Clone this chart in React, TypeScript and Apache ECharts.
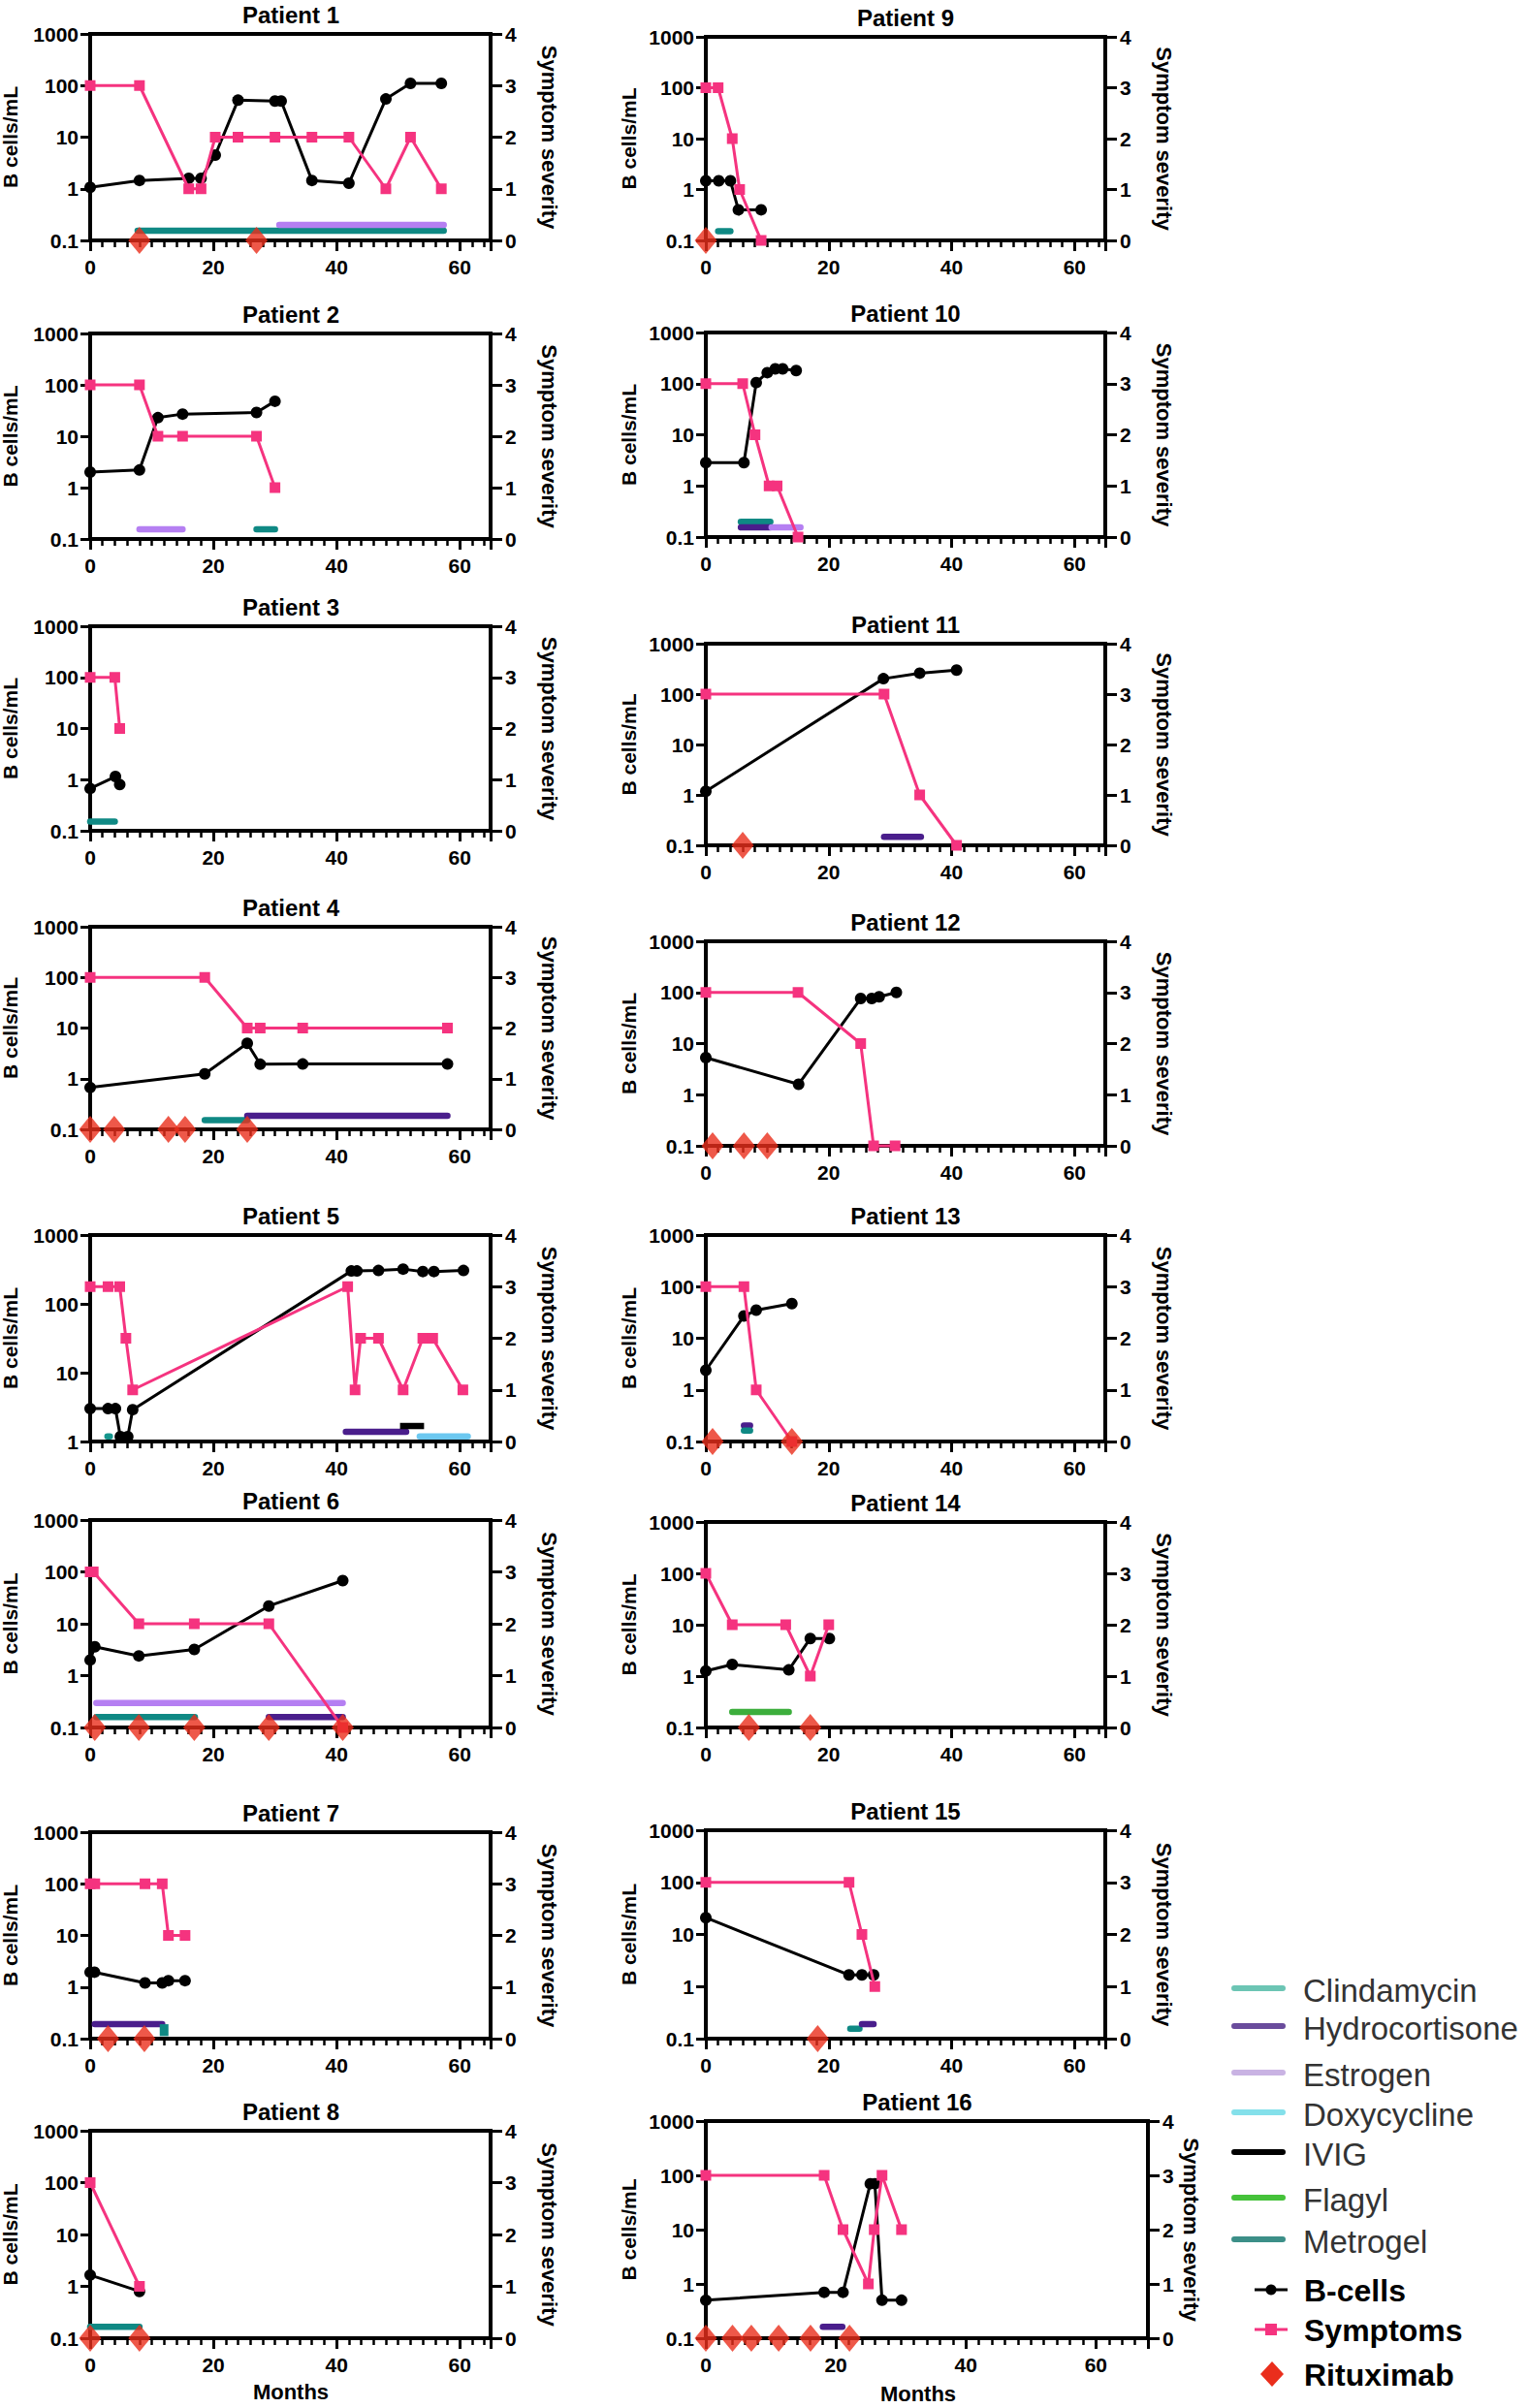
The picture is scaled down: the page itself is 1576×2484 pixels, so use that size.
import React, { useEffect, useRef } from "react";
import * as echarts from "echarts";

// ---------------- DATA ----------------
// [month, B cells/mL]
const p1Bcells = [[0, 1.07], [8, 1.45], [16, 1.6], [18, 1.6], [20.3, 4.5], [24, 52], [30, 50], [31, 50], [36, 1.45], [42, 1.28], [48, 55], [52, 110], [57, 110]];
const p1Symptoms = [[0, 3], [8, 3], [16, 1], [18, 1], [20.3, 2], [24, 2], [30, 2], [36, 2], [42, 2], [48, 1], [52, 2], [57, 1]];
const p1Rituximab = [8, 27];
const p1Drugs = [["Metrogel", 7.7, 57.4, 0.19, 0.19], ["Estrogen", 30.7, 57.4, 0.3, 0.3]];

const p2Bcells = [[0, 2], [8, 2.2], [11, 23], [15, 27], [27, 29], [30, 48]];
const p2Symptoms = [[0, 3], [8, 3], [11, 2], [15, 2], [27, 2], [30, 1]];
const p2Rituximab: number[] = [];
const p2Drugs = [["Estrogen", 8, 15, 0.19, 0.19], ["Metrogel", 27, 30, 0.19, 0.19]];

const p3Bcells = [[0, 0.67], [4.1, 1.15], [4.8, 0.8]];
const p3Symptoms = [[0, 3], [4, 3], [4.8, 2]];
const p3Rituximab: number[] = [];
const p3Drugs = [["Metrogel", 0, 4, 0.18, 0.18]];

const p4Bcells = [[0, 0.67], [18.6, 1.25], [25.5, 5], [27.6, 1.93], [34.5, 1.95], [58, 1.95]];
const p4Symptoms = [[0, 3], [18.6, 3], [25.5, 2], [27.6, 2], [34.5, 2], [58, 2]];
const p4Rituximab = [0, 3.9, 12.7, 15.4, 25.5];
const p4Drugs = [["Metrogel", 18.6, 25.5, 0.18, 0.18], ["Hydrocortisone", 25.5, 58, 0.27, 0.27]];

const p5Bcells = [[0, 3], [2.9, 3], [4.1, 3], [4.9, 1.18], [6.1, 1.18], [6.9, 2.9], [42.4, 300], [43.3, 300], [46.8, 305], [50.8, 320], [54, 295], [55.8, 295], [60.6, 305]];
const p5Symptoms = [[0, 3], [2.9, 3], [4.8, 3], [5.8, 2], [6.9, 1], [41.8, 3], [43, 1], [43.9, 2], [46.8, 2], [50.8, 1], [54, 2], [55.6, 2], [60.5, 1]];
const p5Rituximab: number[] = [];
const p5Drugs = [["Clindamycin", 2.8, 3.2, 0.1, 0.1], ["Hydrocortisone", 41.5, 51.3, 0.19, 0.19], ["IVIG", 50.3, 54.2, 0.3, 0.3], ["Doxycycline", 53.5, 61.3, 0.1, 0.1]];

const p6Bcells = [[0, 2], [0.75, 3.6], [7.9, 2.4], [16.9, 3.2], [29, 22], [41, 68]];
const p6Symptoms = [[0, 3], [0.5, 3], [7.9, 2], [16.9, 2], [29, 2], [41, 0]];
const p6Rituximab = [0.75, 7.9, 16.9, 29, 41];
const p6Drugs = [["Estrogen", 1, 41, 0.47, 0.47], ["Metrogel", 1, 17, 0.2, 0.2], ["Hydrocortisone", 29, 41, 0.2, 0.2]];

const p7Bcells = [[0, 1.94], [0.7, 1.94], [8.9, 1.2], [11.7, 1.2], [12.7, 1.33], [15.4, 1.33]];
const p7Symptoms = [[0, 3], [0.75, 3], [8.9, 3], [11.7, 3], [12.7, 2], [15.4, 2]];
const p7Rituximab = [2.9, 8.8];
const p7Drugs = [["Hydrocortisone", 0.75, 11.7, 0.28, 0.28], ["Metrogel", 12, 12, 0.05, 0.28]];

const p8Bcells = [[0, 1.65], [8, 0.8]];
const p8Symptoms = [[0, 3], [8, 1]];
const p8Rituximab = [0, 8];
const p8Drugs = [["Metrogel", 0, 8, 0.22, 0.22]];

const p9Bcells = [[0, 1.48], [2.1, 1.48], [4, 1.48], [5.3, 0.4], [9, 0.4]];
const p9Symptoms = [[0, 3], [2, 3], [4.3, 2], [5.5, 1], [9, 0]];
const p9Rituximab = [0];
const p9Drugs = [["Metrogel", 2, 4, 0.18, 0.18]];

const p10Bcells = [[0, 2.85], [6.2, 2.85], [8.2, 105], [10, 164], [11.3, 195], [12.5, 195], [14.7, 180]];
const p10Symptoms = [[0, 3], [6, 3], [8, 2], [10.3, 1], [11.6, 1], [15, 0]];
const p10Rituximab: number[] = [];
const p10Drugs = [["Metrogel", 5.7, 10.5, 0.3, 0.3], ["Hydrocortisone", 5.7, 10.5, 0.19, 0.19], ["Estrogen", 10.7, 15.4, 0.19, 0.19]];

const p11Bcells = [[0, 1.18], [28.9, 202], [34.8, 260], [40.8, 300]];
const p11Symptoms = [[0, 3], [29, 3], [34.8, 1], [40.8, 0]];
const p11Rituximab = [6];
const p11Drugs = [["Hydrocortisone", 29, 35, 0.17, 0.17]];

const p12Bcells = [[0, 5.3], [15.1, 1.6], [25.2, 76], [27, 76], [28.2, 82], [31, 100]];
const p12Symptoms = [[0, 3], [15, 3], [25.2, 2], [27.3, 0], [30.8, 0]];
const p12Rituximab = [1.1, 6.2, 10];
const p12Drugs: any[] = [];

const p13Bcells = [[0, 2.4], [6.2, 27], [8.2, 35], [14, 47]];
const p13Symptoms = [[0, 3], [6.2, 3], [8.2, 1], [14, 0]];
const p13Rituximab = [1.1, 14];
const p13Drugs = [["Hydrocortisone", 6.2, 7.2, 0.31, 0.31], ["Metrogel", 6.2, 7.2, 0.21, 0.21]];

const p14Bcells = [[0, 1.26], [4.3, 1.68], [13.5, 1.32], [17, 5.4], [20.1, 5.4]];
const p14Symptoms = [[0, 3], [4.3, 2], [13, 2], [17, 1], [20, 2]];
const p14Rituximab = [7, 17];
const p14Drugs = [["Flagyl", 4.3, 13.5, 0.3, 0.3]];

const p15Bcells = [[0, 21], [23.3, 1.67], [25.4, 1.67], [27.3, 1.67]];
const p15Symptoms = [[0, 3], [23.3, 3], [25.4, 2], [27.5, 1]];
const p15Rituximab = [18.2];
const p15Drugs = [["Metrogel", 23.5, 25, 0.19, 0.19], ["Hydrocortisone", 25.4, 27.3, 0.28, 0.28]];

const p16Bcells = [[0, 0.5], [18.2, 0.7], [21.1, 0.7], [25.3, 70], [26, 70], [27.1, 0.5], [30.1, 0.5]];
const p16Symptoms = [[0, 3], [18.2, 3], [21.1, 2], [25, 1], [25.9, 2], [27.1, 3], [30.1, 2]];
const p16Rituximab = [0, 4.1, 7, 11.2, 16.1, 22.1];
const p16Drugs = [["Hydrocortisone", 18, 21, 0.21, 0.21]];

const legendDrugs = ["Clindamycin", "Hydrocortisone", "Estrogen", "Doxycycline", "IVIG", "Flagyl", "Metrogel"];
const legendMarkers = ["B-cells", "Symptoms", "Rituximab"];
const xTickLabels = [0, 20, 40, 60];
const logTickLabels: Record<string, string> = { "-1": "0.1", "0": "1", "1": "10", "2": "100", "3": "1000" };

// ---------------- STYLE / LAYOUT ----------------
const FONT = "'Liberation Sans', Arial, Helvetica, sans-serif";
const BLACK = "#000000";
const PINK = "#f5337f";
const RED = "#ea2e1c";
const panelDrugColor: Record<string, string> = {
  Clindamycin: "#14958c",
  Hydrocortisone: "#4a1e8c",
  Estrogen: "#b57ff2",
  Doxycycline: "#6cc8f0",
  IVIG: "#000000",
  Flagyl: "#3cae3c",
  Metrogel: "#0f8984",
};
const legendDrugColor: Record<string, string> = {
  Clindamycin: "#6cc5b4",
  Hydrocortisone: "#6a4c9c",
  Estrogen: "#c9b3e3",
  Doxycycline: "#84e0ea",
  IVIG: "#000000",
  Flagyl: "#45c23a",
  Metrogel: "#3c8f88",
};

const patients = [
  { title: "Patient 1", bcells: p1Bcells, symptoms: p1Symptoms, rtx: p1Rituximab, drugs: p1Drugs },
  { title: "Patient 2", bcells: p2Bcells, symptoms: p2Symptoms, rtx: p2Rituximab, drugs: p2Drugs },
  { title: "Patient 3", bcells: p3Bcells, symptoms: p3Symptoms, rtx: p3Rituximab, drugs: p3Drugs },
  { title: "Patient 4", bcells: p4Bcells, symptoms: p4Symptoms, rtx: p4Rituximab, drugs: p4Drugs },
  { title: "Patient 5", bcells: p5Bcells, symptoms: p5Symptoms, rtx: p5Rituximab, drugs: p5Drugs },
  { title: "Patient 6", bcells: p6Bcells, symptoms: p6Symptoms, rtx: p6Rituximab, drugs: p6Drugs },
  { title: "Patient 7", bcells: p7Bcells, symptoms: p7Symptoms, rtx: p7Rituximab, drugs: p7Drugs },
  { title: "Patient 8", bcells: p8Bcells, symptoms: p8Symptoms, rtx: p8Rituximab, drugs: p8Drugs },
  { title: "Patient 9", bcells: p9Bcells, symptoms: p9Symptoms, rtx: p9Rituximab, drugs: p9Drugs },
  { title: "Patient 10", bcells: p10Bcells, symptoms: p10Symptoms, rtx: p10Rituximab, drugs: p10Drugs },
  { title: "Patient 11", bcells: p11Bcells, symptoms: p11Symptoms, rtx: p11Rituximab, drugs: p11Drugs },
  { title: "Patient 12", bcells: p12Bcells, symptoms: p12Symptoms, rtx: p12Rituximab, drugs: p12Drugs },
  { title: "Patient 13", bcells: p13Bcells, symptoms: p13Symptoms, rtx: p13Rituximab, drugs: p13Drugs },
  { title: "Patient 14", bcells: p14Bcells, symptoms: p14Symptoms, rtx: p14Rituximab, drugs: p14Drugs },
  { title: "Patient 15", bcells: p15Bcells, symptoms: p15Symptoms, rtx: p15Rituximab, drugs: p15Drugs },
  { title: "Patient 16", bcells: p16Bcells, symptoms: p16Symptoms, rtx: p16Rituximab, drugs: p16Drugs },
];

// left, top, width, height, xMax, yMin, bLabelX, sLabelX, titleX
const layouts = [
  [93, 35, 413, 213, 65, 0.1, 10, 566, 300],
  [93, 344, 413, 212, 65, 0.1, 10, 566, 300],
  [93, 646, 413, 211, 65, 0.1, 10, 566, 300],
  [93, 956, 413, 209, 65, 0.1, 10, 566, 300],
  [93, 1274, 413, 213, 65, 1, 10, 566, 300],
  [93, 1568, 413, 214, 65, 0.1, 10, 566, 300],
  [93, 1890, 413, 213, 65, 0.1, 10, 566, 300],
  [93, 2198, 413, 214, 65, 0.1, 10, 566, 300],
  [728, 38, 412, 210, 65, 0.1, 648, 1200, 934],
  [728, 343, 412, 211, 65, 0.1, 648, 1200, 934],
  [728, 664, 412, 208, 65, 0.1, 648, 1200, 934],
  [728, 971, 412, 211, 65, 0.1, 648, 1200, 934],
  [728, 1274, 412, 213, 65, 0.1, 648, 1200, 934],
  [728, 1570, 412, 212, 65, 0.1, 648, 1200, 934],
  [728, 1888, 412, 215, 65, 0.1, 648, 1200, 934],
  [728, 2188, 456, 224, 68, 0.1, 648, 1228, 946],
];

const labelStyle = { color: BLACK, fontFamily: FONT, fontWeight: "bold" as const, fontSize: 21 };
const noLine = { show: false, onZero: false };

function buildOption() {
  const grid: any[] = [];
  const xAxis: any[] = [];
  const yAxis: any[] = [];
  const series: any[] = [];
  const graphic: any[] = [];

  patients.forEach((p, i) => {
    const [left, top, width, height, xMax, yMin, bLabelX, sLabelX, titleX] = layouts[i];
    grid.push({ left, top, width, height, show: true, borderColor: BLACK, borderWidth: 4, backgroundColor: "transparent" });
    xAxis.push({
      gridIndex: i, type: "value", min: 0, max: xMax, interval: 20, position: "bottom",
      axisLine: noLine, splitLine: { show: false },
      axisTick: { show: true, length: 11, lineStyle: { color: BLACK, width: 3 } },
      axisLabel: { ...labelStyle, margin: 17, formatter: (v: number) => (xTickLabels.includes(v) ? String(v) : "") },
    });
    xAxis.push({
      gridIndex: i, type: "value", min: 0, max: xMax, interval: 2, position: "bottom",
      axisLine: noLine, splitLine: { show: false },
      axisTick: { show: true, length: 7, lineStyle: { color: BLACK, width: 2.5 } },
      axisLabel: { show: false },
    });
    // data axis (log), no ticks/labels
    yAxis.push({
      gridIndex: i, type: "log", logBase: 10, min: yMin, max: 1000, position: "left",
      axisLine: noLine, splitLine: { show: false }, axisTick: { show: false }, axisLabel: { show: false },
    });
    // right symptom axis
    yAxis.push({
      gridIndex: i, type: "value", min: 0, max: 4, interval: 1, position: "right",
      axisLine: noLine, splitLine: { show: false },
      axisTick: { show: true, length: 12, lineStyle: { color: BLACK, width: 3 } },
      axisLabel: { ...labelStyle, margin: 15 },
    });
    // decade tick/label axis (log10 units)
    yAxis.push({
      gridIndex: i, type: "value", min: Math.round(Math.log10(yMin)), max: 3, interval: 1, position: "left",
      axisLine: noLine, splitLine: { show: false },
      axisTick: { show: true, length: 10, lineStyle: { color: BLACK, width: 3 } },
      axisLabel: { ...labelStyle, margin: 12, formatter: (v: number) => logTickLabels[String(Math.round(v))] ?? "" },
    });
    const xi = 2 * i;
    const yl = 3 * i;
    const yr = 3 * i + 1;
    p.drugs.forEach((d: any) => {
      const [drug, x1, x2, y1, y2] = d;
      series.push({
        type: "line", xAxisIndex: xi, yAxisIndex: yr, data: [[x1, y1], [x2, y2]],
        symbol: "none", showSymbol: false, silent: true, clip: false, z: 2,
        lineStyle: { color: panelDrugColor[drug], width: x1 === x2 ? 9 : 6.5, cap: drug === "IVIG" || x1 === x2 ? "butt" : "round" },
      });
    });
    series.push({
      name: "B-cells", type: "line", xAxisIndex: xi, yAxisIndex: yl, data: p.bcells,
      symbol: "circle", symbolSize: 12, clip: false, z: 3,
      itemStyle: { color: BLACK }, lineStyle: { color: BLACK, width: 3 },
    });
    series.push({
      name: "Symptoms", type: "line", xAxisIndex: xi, yAxisIndex: yr, data: p.symptoms,
      symbol: "rect", symbolSize: 11, clip: false, z: 4,
      itemStyle: { color: PINK }, lineStyle: { color: PINK, width: 3 },
    });
    if (p.rtx.length) {
      series.push({
        name: "Rituximab", type: "scatter", xAxisIndex: xi, yAxisIndex: yr,
        data: p.rtx.map((x) => [x, 0]), symbol: "diamond", symbolSize: [23, 28], clip: false, z: 5,
        itemStyle: { color: RED },
      });
    }
    // titles and axis names
    graphic.push({
      type: "text", x: titleX, y: top - 20,
      style: { text: p.title, font: `bold 24px ${FONT}`, fill: BLACK, textAlign: "center", textVerticalAlign: "middle" },
    });
    graphic.push({
      type: "text", x: bLabelX, y: top + height / 2, rotation: Math.PI / 2,
      style: { text: "B cells/mL", font: `bold 21px ${FONT}`, fill: BLACK, textAlign: "center", textVerticalAlign: "middle" },
    });
    graphic.push({
      type: "text", x: sLabelX, y: top + height / 2, rotation: -Math.PI / 2,
      style: { text: "Symptom severity", font: `bold 22px ${FONT}`, fill: BLACK, textAlign: "center", textVerticalAlign: "middle" },
    });
  });

  graphic.push({
    type: "text", x: 300, y: 2467,
    style: { text: "Months", font: `bold 22px ${FONT}`, fill: BLACK, textAlign: "center", textVerticalAlign: "middle" },
  });
  graphic.push({
    type: "text", x: 947, y: 2469,
    style: { text: "Months", font: `bold 22px ${FONT}`, fill: BLACK, textAlign: "center", textVerticalAlign: "middle" },
  });

  // legend
  const drugRowY = [2051, 2090, 2138, 2179, 2220, 2267, 2310];
  legendDrugs.forEach((d, k) => {
    const y = drugRowY[k];
    graphic.push({
      type: "line", shape: { x1: 1273, y1: y, x2: 1323, y2: y },
      style: { stroke: legendDrugColor[d], lineWidth: 6, lineCap: "round" },
    });
    graphic.push({
      type: "text", x: 1344, y: y + 2,
      style: { text: d, font: `33px ${FONT}`, fill: "#333333", textAlign: "left", textVerticalAlign: "middle" },
    });
  });
  const markerRowY = [2362, 2403, 2449];
  graphic.push({ type: "line", shape: { x1: 1294, y1: markerRowY[0], x2: 1328, y2: markerRowY[0] }, style: { stroke: BLACK, lineWidth: 3 } });
  graphic.push({ type: "circle", shape: { cx: 1311, cy: markerRowY[0], r: 5.5 }, style: { fill: BLACK } });
  graphic.push({ type: "line", shape: { x1: 1294, y1: markerRowY[1], x2: 1328, y2: markerRowY[1] }, style: { stroke: PINK, lineWidth: 3 } });
  graphic.push({ type: "rect", shape: { x: 1305, y: markerRowY[1] - 6, width: 12, height: 12 }, style: { fill: PINK } });
  graphic.push({
    type: "polygon",
    shape: { points: [[1312, markerRowY[2] - 13], [1324, markerRowY[2]], [1312, markerRowY[2] + 13], [1300, markerRowY[2]]] },
    style: { fill: RED },
  });
  legendMarkers.forEach((m, k) => {
    graphic.push({
      type: "text", x: 1345, y: markerRowY[k] + 1,
      style: { text: m, font: `bold 32px ${FONT}`, fill: BLACK, textAlign: "left", textVerticalAlign: "middle" },
    });
  });

  return {
    animation: false,
    backgroundColor: "#ffffff",
    grid,
    xAxis,
    yAxis,
    series,
    graphic,
  };
}

export default function App() {
  const ref = useRef<HTMLDivElement>(null);
  useEffect(() => {
    if (!ref.current) return;
    const chart = echarts.init(ref.current, null, { renderer: "svg" });
    chart.setOption(buildOption() as any);
    return () => chart.dispose();
  }, []);
  return (
    <div
      ref={ref}
      style={{ position: "absolute", left: 0, top: 0, width: 1576, height: 2484, background: "#ffffff" }}
    />
  );
}
